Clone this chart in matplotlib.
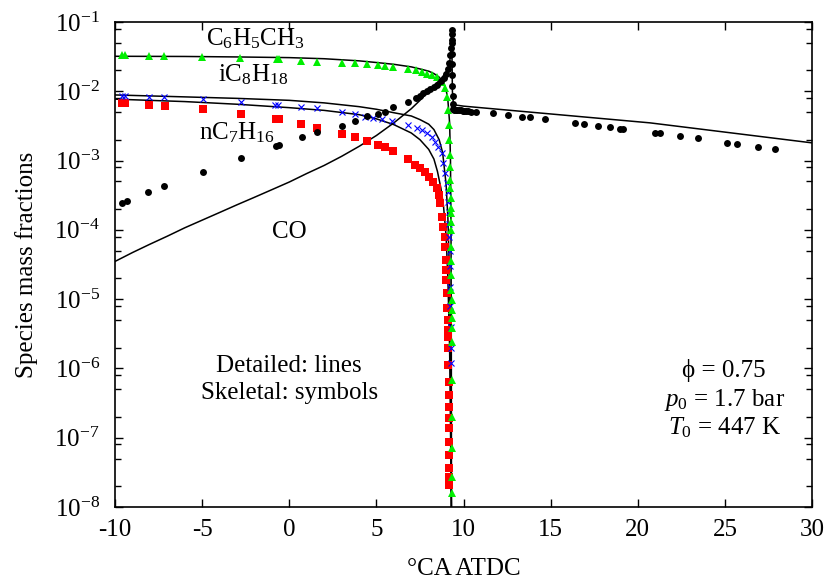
import matplotlib
matplotlib.use("Agg")
import matplotlib.pyplot as plt
from matplotlib.ticker import LogLocator, FixedLocator, NullFormatter, LogFormatterMathtext

plt.rcParams['font.family'] = ['Liberation Serif', 'DejaVu Serif']
plt.rcParams['mathtext.fontset'] = 'custom'
plt.rcParams['mathtext.rm'] = 'Liberation Serif'
plt.rcParams['mathtext.it'] = 'Liberation Serif:italic'
plt.rcParams['axes.unicode_minus'] = False

# Detailed mechanism (lines)
tol_line_x = [-10, -6, -3, 0, 2, 4, 5, 6, 7, 7.5, 8, 8.3, 8.6, 8.8, 9.0, 9.1, 9.2, 9.25, 9.28, 9.3, 9.31]
tol_line_y = [3.2e-2, 3.18e-2, 3.13e-2, 3.06e-2, 2.95e-2, 2.75e-2, 2.6e-2, 2.45e-2, 2.25e-2, 2.1e-2,
              1.95e-2, 1.8e-2, 1.6e-2, 1.4e-2, 1.05e-2, 7.5e-3, 3.5e-3, 1e-3, 1e-4, 1e-6, 1e-9]

ic8_line_x = [-10, -6, -3, 0, 2, 4, 5, 6, 7, 7.5, 8, 8.3, 8.6, 8.8, 9.0, 9.1, 9.2, 9.26, 9.3, 9.31]
ic8_line_y = [8.85e-3, 8.3e-3, 7.9e-3, 7.4e-3, 6.8e-3, 6.0e-3, 5.5e-3, 4.9e-3, 4.4e-3, 3.9e-3,
              3.35e-3, 2.8e-3, 2.0e-3, 1.3e-3, 4.5e-4, 1.5e-4, 2e-5, 1e-6, 1e-8, 1e-9]

nc7_line_x = [-10, -6, -3, 0, 2, 4, 5, 6, 7, 7.5, 8, 8.3, 8.5, 8.7, 8.85, 9.0, 9.1, 9.2, 9.27, 9.3, 9.31]
nc7_line_y = [7.7e-3, 7.1e-3, 6.5e-3, 5.8e-3, 5.3e-3, 4.6e-3, 4.0e-3, 3.3e-3, 2.5e-3, 2.0e-3,
              1.45e-3, 1.05e-3, 7e-4, 4e-4, 2.2e-4, 8e-5, 2e-5, 2e-6, 5e-8, 1e-8, 1e-9]

co_line_x = [-10, -9, -8, -7, -6, -5, -4, -3, -2, -1, 0, 1, 2, 3, 4, 5, 6, 7, 7.5, 8, 8.5, 8.8,
             9.0, 9.1, 9.2, 9.26, 9.3, 9.32, 9.36, 9.42, 10, 20.7, 30]
co_line_y = [3.5e-5, 4.7e-5, 6.2e-5, 8.1e-5, 1.07e-4, 1.38e-4, 1.78e-4, 2.3e-4, 2.95e-4, 3.8e-4,
             4.9e-4, 6.5e-4, 8.5e-4, 1.15e-3, 1.6e-3, 2.3e-3, 3.5e-3, 5.6e-3, 7.4e-3, 1.0e-2,
             1.35e-2, 1.6e-2, 1.9e-2, 2.15e-2, 2.6e-2, 3.5e-2, 5.6e-2, 7.5e-2, 1e-2, 6.4e-3,
             6.1e-3, 3.5e-3, 1.8e-3]

# Skeletal mechanism (symbols)
tol_sym_x = [-9.6, -9.4, -8.05, -7.2, -5.0, -2.83, -0.7, -0.6, 0.67, 1.6, 3.0, 3.77, 4.45, 5.1,
             5.5, 5.95, 6.8, 7.27, 7.6, 7.9, 8.2, 8.5, 8.76, 8.93, 9.05, 9.1, 9.14, 9.17, 9.2,
             9.22, 9.24, 9.25, 9.26, 9.27, 9.28, 9.28, 9.29, 9.29, 9.3, 9.3, 9.3, 9.31, 9.31,
             9.31, 9.32, 9.32, 9.32, 9.33, 9.33, 9.33, 9.33]
tol_sym_y = [3.3e-2, 3.3e-2, 3.26e-2, 3.25e-2, 3.16e-2, 3.0e-2, 2.9e-2, 2.9e-2, 2.77e-2, 2.68e-2,
             2.6e-2, 2.53e-2, 2.45e-2, 2.37e-2, 2.32e-2, 2.22e-2, 2.1e-2, 2.0e-2, 1.9e-2, 1.8e-2,
             1.72e-2, 1.6e-2, 1.38e-2, 1.1e-2, 8.4e-3, 5.4e-3, 3.27e-3, 2.0e-3, 1.2e-3, 8.1e-4,
             5.2e-4, 4.0e-4, 2.9e-4, 2.1e-4, 1.75e-4, 1.3e-4, 1.0e-4, 5.6e-5, 3.5e-5, 2.25e-5,
             1.36e-5, 9.8e-6, 7e-6, 5.4e-6, 3.8e-6, 2.4e-6, 6.8e-7, 2.0e-7, 7.1e-8, 2.7e-8, 1.6e-8]

ic8_sym_x = [-9.6, -9.4, -8.05, -7.2, -4.95, -2.77, -0.8, -0.65, 0.67, 1.6, 3.0, 3.77, 4.35,
             4.8, 5.3, 5.9, 6.8, 7.33, 7.6, 7.9, 8.2, 8.36, 8.53, 8.76, 8.82, 8.93, 9.05, 9.1,
             9.12, 9.14, 9.16, 9.18, 9.2, 9.22, 9.24, 9.25, 9.26, 9.27, 9.28]
ic8_sym_y = [8.65e-3, 8.65e-3, 8.2e-3, 8.2e-3, 7.7e-3, 7.1e-3, 6.3e-3, 6.3e-3, 5.9e-3, 5.7e-3,
             5.0e-3, 4.7e-3, 4.3e-3, 4.07e-3, 3.95e-3, 3.7e-3, 3.27e-3, 2.95e-3, 2.75e-3, 2.5e-3,
             2.2e-3, 1.85e-3, 1.58e-3, 1.3e-3, 9.3e-4, 6.6e-4, 4.8e-4, 3.5e-4, 2.5e-4, 1.8e-4,
             1.2e-4, 8e-5, 5e-5, 3e-5, 1.5e-5, 8e-6, 4e-6, 2e-6, 1.2e-6]

nc7_sym_x = [-9.6, -9.4, -8.05, -7.13, -4.95, -2.77, -0.76, -0.6, 0.67, 1.6, 3.0, 3.77, 4.46,
             5.1, 5.5, 5.95, 6.8, 7.2, 7.5, 7.8, 8.0, 8.24, 8.47, 8.6, 8.65, 8.76, 8.82, 8.93,
             8.95, 9.0, 9.0, 9.02, 9.05, 9.05, 9.08, 9.1, 9.1, 9.12, 9.12, 9.14, 9.14, 9.15,
             9.15, 9.16, 9.16, 9.17, 9.17, 9.17, 9.18, 9.18]
nc7_sym_y = [6.85e-3, 6.85e-3, 6.3e-3, 6.2e-3, 5.5e-3, 4.7e-3, 4.0e-3, 4.0e-3, 3.37e-3, 3.0e-3,
             2.42e-3, 2.2e-3, 1.9e-3, 1.68e-3, 1.58e-3, 1.39e-3, 1.04e-3, 8.7e-4, 7.8e-4, 6.9e-4,
             5.8e-4, 4.9e-4, 4.0e-4, 3.2e-4, 2.45e-4, 1.55e-4, 1.1e-4, 7.9e-5, 5.6e-5, 3.7e-5,
             2.6e-5, 1.9e-5, 1.23e-5, 7.4e-6, 5e-6, 3.6e-6, 2.8e-6, 2.0e-6, 1.13e-6, 6.4e-7,
             4.2e-7, 2.8e-7, 1.94e-7, 1.4e-7, 8.7e-8, 5.6e-8, 3.6e-8, 2.7e-8, 2.1e-8, 2.1e-8]

co_sym_x = [-9.6, -9.3, -8.1, -7.2, -4.95, -2.77, -0.76, -0.6, 0.73, 1.6, 3.0, 3.77, 4.46, 5.1,
            5.5, 5.95, 6.8, 7.27, 7.5, 7.7, 7.9, 8.1, 8.3, 8.5, 8.7, 8.85, 9.0, 9.1, 9.18, 9.24,
            9.28, 9.31, 9.33, 9.34, 9.35, 9.35, 9.35, 9.36, 9.36, 9.37, 9.37, 9.38, 9.45, 9.55,
            9.65, 9.75, 9.85, 9.95, 10.05, 10.15, 10.25, 10.45, 10.7, 11.7, 12.55, 13.35, 13.8,
            14.7, 16.4, 16.9, 17.7, 18.4, 19.0, 19.15, 21.0, 21.3, 22.4, 23.45, 25.1, 25.7,
            26.9, 27.9]
co_sym_y = [2.45e-4, 2.6e-4, 3.5e-4, 4.3e-4, 6.9e-4, 1.1e-3, 1.6e-3, 1.7e-3, 2.2e-3, 2.55e-3,
            3.2e-3, 3.7e-3, 4.35e-3, 4.7e-3, 5.0e-3, 5.9e-3, 7.1e-3, 8.0e-3, 8.6e-3, 9.3e-3,
            1.0e-2, 1.08e-2, 1.15e-2, 1.25e-2, 1.4e-2, 1.55e-2, 1.8e-2, 2.1e-2, 2.6e-2, 3.3e-2,
            4.2e-2, 5.5e-2, 6.8e-2, 7.6e-2, 5e-2, 3.5e-2, 2.5e-2, 1.7e-2, 1.2e-2, 8.5e-3, 6.5e-3,
            5.6e-3, 5.45e-3, 5.4e-3, 5.35e-3, 5.3e-3, 5.3e-3, 5.25e-3, 5.2e-3, 5.2e-3, 5.15e-3,
            5.1e-3, 5.0e-3, 4.8e-3, 4.55e-3, 4.3e-3, 4.2e-3, 4.0e-3, 3.5e-3, 3.4e-3, 3.2e-3,
            3.05e-3, 2.9e-3, 2.9e-3, 2.5e-3, 2.5e-3, 2.27e-3, 2.1e-3, 1.8e-3, 1.76e-3, 1.58e-3,
            1.47e-3]

x_ticks = [-10, -5, 0, 5, 10, 15, 20, 25, 30]
y_ticks = [1e-8, 1e-7, 1e-6, 1e-5, 1e-4, 1e-3, 1e-2, 1e-1]

fig = plt.figure(figsize=(8.3, 5.88), dpi=100)
ax = fig.add_axes([0.1386, 0.1378, 0.8398, 0.8248])

for lx, ly in [(tol_line_x, tol_line_y), (ic8_line_x, ic8_line_y),
               (nc7_line_x, nc7_line_y), (co_line_x, co_line_y)]:
    ax.plot(lx, ly, color='black', lw=1.1, zorder=2)

ax.plot(nc7_sym_x, nc7_sym_y, 's', color='#ff0000', ms=5.5, mew=0, zorder=3)
ax.plot(ic8_sym_x, ic8_sym_y, 'x', color='#0000ff', ms=5, mew=0.8, zorder=4)
ax.plot(tol_sym_x, tol_sym_y, '^', color='#00ee00', ms=5.5, mew=0, zorder=5)
ax.plot(co_sym_x, co_sym_y, 'o', color='black', ms=5, mew=0, zorder=6)

ax.set_yscale('log')
ax.set_xlim(-10, 30)
ax.set_ylim(1e-8, 1e-1)
ax.xaxis.set_major_locator(FixedLocator(x_ticks))
ax.yaxis.set_major_locator(FixedLocator(y_ticks))
ax.yaxis.set_minor_locator(LogLocator(base=10, subs=[2, 5, 8], numticks=20))
ax.yaxis.set_major_formatter(LogFormatterMathtext())
ax.yaxis.set_minor_formatter(NullFormatter())

ax.tick_params(which='both', direction='in', top=True, right=True, labelsize=18)
ax.tick_params(which='major', length=6, width=1)
ax.tick_params(which='minor', length=4, width=1)
ax.tick_params(axis='x', pad=9)
ax.tick_params(axis='y', pad=11)
for s in ax.spines.values():
    s.set_linewidth(1.2)

ax.set_xlabel('°CA ATDC', fontsize=18)
ax.set_ylabel('Species mass fractions', fontsize=18)
ax.xaxis.set_label_coords(0.5, -0.105)
ax.yaxis.set_label_coords(-0.11, 0.5)

tr = ax.transAxes
ax.text(0.201, 0.9526, r'C$_6$H$_5$CH$_3$', transform=tr, fontsize=18, ha='center', va='baseline')
ax.text(0.198, 0.878, r'iC$_8$H$_{18}$', transform=tr, fontsize=18, ha='center', va='baseline')
ax.text(0.175, 0.757, r'nC$_7$H$_{16}$', transform=tr, fontsize=18, ha='center', va='baseline')
ax.text(0.2496, 0.5546, 'CO', transform=tr, fontsize=18, ha='center', va='baseline')
ax.text(0.25, 0.278, 'Detailed: lines', transform=tr, fontsize=18, ha='center', va='baseline')
ax.text(0.25, 0.2227, 'Skeletal: symbols', transform=tr, fontsize=18, ha='center', va='baseline')
ax.text(0.874, 0.268, '\u03d5 = 0.75', transform=tr, fontsize=18, ha='center', va='baseline')
ax.text(0.874, 0.208, r'$\mathit{p_0}$ = 1.7 bar', transform=tr, fontsize=18, ha='center', va='baseline')
ax.text(0.874, 0.1505, r'$\mathit{T_0}$ = 447 K', transform=tr, fontsize=18, ha='center', va='baseline')

fig.savefig('out.png', dpi=100)
